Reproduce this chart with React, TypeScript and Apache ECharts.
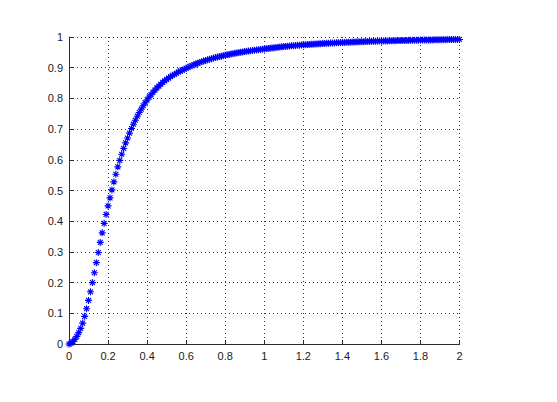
import React, { useEffect, useRef } from "react";
import * as echarts from "echarts";

// x sample positions (0 .. 2, step 0.01)
const xValues: number[] = [
  0, 0.01, 0.02, 0.03, 0.04, 0.05, 0.06, 0.07, 0.08, 0.09,
  0.1, 0.11, 0.12, 0.13, 0.14, 0.15, 0.16, 0.17, 0.18, 0.19,
  0.2, 0.21, 0.22, 0.23, 0.24, 0.25, 0.26, 0.27, 0.28, 0.29,
  0.3, 0.31, 0.32, 0.33, 0.34, 0.35, 0.36, 0.37, 0.38, 0.39,
  0.4, 0.41, 0.42, 0.43, 0.44, 0.45, 0.46, 0.47, 0.48, 0.49,
  0.5, 0.51, 0.52, 0.53, 0.54, 0.55, 0.56, 0.57, 0.58, 0.59,
  0.6, 0.61, 0.62, 0.63, 0.64, 0.65, 0.66, 0.67, 0.68, 0.69,
  0.7, 0.71, 0.72, 0.73, 0.74, 0.75, 0.76, 0.77, 0.78, 0.79,
  0.8, 0.81, 0.82, 0.83, 0.84, 0.85, 0.86, 0.87, 0.88, 0.89,
  0.9, 0.91, 0.92, 0.93, 0.94, 0.95, 0.96, 0.97, 0.98, 0.99,
  1.0, 1.01, 1.02, 1.03, 1.04, 1.05, 1.06, 1.07, 1.08, 1.09,
  1.1, 1.11, 1.12, 1.13, 1.14, 1.15, 1.16, 1.17, 1.18, 1.19,
  1.2, 1.21, 1.22, 1.23, 1.24, 1.25, 1.26, 1.27, 1.28, 1.29,
  1.3, 1.31, 1.32, 1.33, 1.34, 1.35, 1.36, 1.37, 1.38, 1.39,
  1.4, 1.41, 1.42, 1.43, 1.44, 1.45, 1.46, 1.47, 1.48, 1.49,
  1.5, 1.51, 1.52, 1.53, 1.54, 1.55, 1.56, 1.57, 1.58, 1.59,
  1.6, 1.61, 1.62, 1.63, 1.64, 1.65, 1.66, 1.67, 1.68, 1.69,
  1.7, 1.71, 1.72, 1.73, 1.74, 1.75, 1.76, 1.77, 1.78, 1.79,
  1.8, 1.81, 1.82, 1.83, 1.84, 1.85, 1.86, 1.87, 1.88, 1.89,
  1.9, 1.91, 1.92, 1.93, 1.94, 1.95, 1.96, 1.97, 1.98, 1.99,
  2.0,
];

// y values
const yValues: number[] = [
  0, 0.002, 0.008, 0.015, 0.025, 0.037, 0.051, 0.068, 0.09, 0.115,
  0.142, 0.17, 0.2, 0.232, 0.265, 0.298, 0.331, 0.362, 0.393, 0.422,
  0.45, 0.476, 0.502, 0.528, 0.553, 0.577, 0.598, 0.618, 0.637, 0.655,
  0.671, 0.687, 0.702, 0.716, 0.729, 0.742, 0.754, 0.765, 0.776, 0.786,
  0.795, 0.804, 0.812, 0.82, 0.827, 0.834, 0.84, 0.846, 0.852, 0.857,
  0.862, 0.866, 0.871, 0.875, 0.878, 0.882, 0.886, 0.889, 0.892, 0.895,
  0.898, 0.9011, 0.9041, 0.907, 0.9097, 0.9122, 0.9147, 0.9171, 0.9194, 0.9216,
  0.9237, 0.9257, 0.9276, 0.9295, 0.9312, 0.9329, 0.9346, 0.9362, 0.9377, 0.9392,
  0.9406, 0.942, 0.9433, 0.9446, 0.9458, 0.947, 0.9482, 0.9493, 0.9503, 0.9514,
  0.9524, 0.9534, 0.9543, 0.9553, 0.9561, 0.957, 0.9578, 0.9587, 0.9594, 0.9602,
  0.961, 0.9619, 0.9627, 0.9636, 0.9644, 0.9651, 0.9659, 0.9666, 0.9673, 0.968,
  0.9687, 0.9693, 0.97, 0.9706, 0.9712, 0.9717, 0.9723, 0.9728, 0.9734, 0.9739,
  0.9744, 0.9748, 0.9753, 0.9758, 0.9762, 0.9767, 0.9771, 0.9775, 0.9779, 0.9783,
  0.9787, 0.979, 0.9794, 0.9798, 0.9801, 0.9804, 0.9808, 0.9811, 0.9814, 0.9817,
  0.982, 0.9823, 0.9826, 0.9829, 0.9831, 0.9834, 0.9837, 0.9839, 0.9842, 0.9844,
  0.9847, 0.9849, 0.9851, 0.9853, 0.9856, 0.9858, 0.986, 0.9862, 0.9864, 0.9866,
  0.9868, 0.987, 0.9871, 0.9873, 0.9875, 0.9877, 0.9878, 0.988, 0.9882, 0.9883,
  0.9885, 0.9887, 0.9888, 0.989, 0.9891, 0.9892, 0.9894, 0.9895, 0.9897, 0.9898,
  0.9899, 0.99, 0.9902, 0.9903, 0.9904, 0.9905, 0.9906, 0.9908, 0.9909, 0.991,
  0.9911, 0.9912, 0.9913, 0.9914, 0.9915, 0.9916, 0.9917, 0.9918, 0.9919, 0.992,
  0.9921,
];

const xTickLabels = ["0", "0.2", "0.4", "0.6", "0.8", "1", "1.2", "1.4", "1.6", "1.8", "2"];
const yTickLabels = ["0", "0.1", "0.2", "0.3", "0.4", "0.5", "0.6", "0.7", "0.8", "0.9", "1"];

const ASTERISK = "path://M5 0V10M0 5H10M1.5 1.5L8.5 8.5M1.5 8.5L8.5 1.5";

export default function App() {
  const ref = useRef<HTMLDivElement>(null);

  useEffect(() => {
    if (!ref.current) return;
    const chart = echarts.init(ref.current, null, { renderer: "svg" });
    const fmt = (list: string[], step: number) => (v: number) => {
      const i = Math.round(v / step);
      return list[i] ?? "";
    };
    const gridLine = { show: true, lineStyle: { color: "#333", width: 1, type: [1, 3] as any } };
    chart.setOption({
      animation: false,
      backgroundColor: "#ffffff",
      grid: { left: 69, right: 97.5, top: 37, bottom: 58, containLabel: false },
      xAxis: {
        type: "value",
        min: 0,
        max: 2,
        interval: 0.2,
        axisLine: { show: true, onZero: false, lineStyle: { color: "#2b2b2b", width: 1 } },
        axisTick: { show: true, inside: true, length: 4, lineStyle: { color: "#2b2b2b" } },
        axisLabel: {
          color: "#1a1a1a",
          fontSize: 11,
          fontFamily: "Liberation Sans, Arial, sans-serif",
          margin: 6,
          formatter: fmt(xTickLabels, 0.2),
        },
        splitLine: gridLine,
      },
      yAxis: {
        type: "value",
        min: 0,
        max: 1,
        interval: 0.1,
        axisLine: { show: true, onZero: false, lineStyle: { color: "#2b2b2b", width: 1 } },
        axisTick: { show: true, inside: true, length: 4, lineStyle: { color: "#2b2b2b" } },
        axisLabel: {
          color: "#1a1a1a",
          fontSize: 11,
          fontFamily: "Liberation Sans, Arial, sans-serif",
          margin: 6,
          formatter: fmt(yTickLabels, 0.1),
        },
        splitLine: gridLine,
      },
      series: [
        {
          type: "scatter",
          data: xValues.map((x, i) => [x, yValues[i]]),
          symbol: ASTERISK,
          symbolSize: 7,
          itemStyle: { color: "none", borderColor: "#0000ff", borderWidth: 1.1, opacity: 1 },
          clip: false,
        },
      ],
    });
    return () => chart.dispose();
  }, []);

  return (
    <div
      ref={ref}
      style={{ position: "fixed", left: 0, top: 0, width: 557, height: 402, background: "#fff" }}
    />
  );
}
